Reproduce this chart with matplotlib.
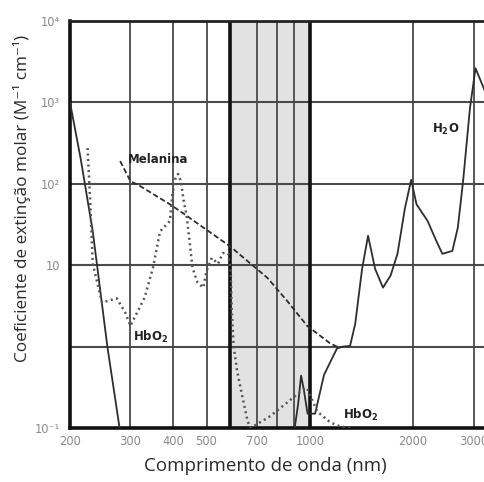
import matplotlib
matplotlib.use("Agg")
import matplotlib.pyplot as plt

# ---- data ----
h2o_nm = [200, 215, 233, 257, 280, 900, 925, 943, 960, 985, 1036, 1100, 1200, 1250, 1310,
          1356, 1420, 1478, 1550, 1634, 1720, 1801, 1893, 1974, 2046, 2204, 2335, 2434,
          2603, 2700, 2797, 2929, 3040, 3240]
h2o_val = [1000, 200, 26, 1.0, 0.09, 0.09, 0.2, 0.44, 0.3, 0.15, 0.15, 0.45, 0.95, 1.0, 1.02,
           1.9, 9, 23, 9, 5.3, 7.5, 13.8, 50, 112, 56, 35, 20, 13.8,
           15, 29, 108, 850, 2630, 1370]

mel_nm = [280, 300, 320, 391, 419, 586, 752, 858, 982, 1148, 1200]
mel_val = [190, 108, 94, 56, 46, 17, 7.0, 3.66, 1.8, 1.09, 1.0]

hbo2_nm = [225, 229, 233, 248, 260, 274, 290, 300, 330, 349, 366, 391, 397, 405, 413, 421,
           429, 437, 446, 455, 471, 489, 500, 518, 540, 558, 578, 588, 592, 600, 614, 635,
           659, 672, 767, 876, 948, 982, 1050, 1148, 1222, 1310]
hbo2_val = [275, 62, 10.4, 3.46, 3.7, 3.9, 2.6, 1.8, 4.0, 9.3, 26, 35, 71, 114, 132, 108,
            61, 42, 20, 9.3, 6.1, 5.3, 8.5, 12.3, 10.4, 14.1, 14, 8.5, 2.8, 1.0, 0.5, 0.25,
            0.12, 0.1, 0.14, 0.22, 0.29, 0.31, 0.16, 0.117, 0.105, 0.1]

xticks = [200, 300, 400, 500, 700, 1000, 2000, 3000]
xticklabels = ["200", "300", "400", "500", "700", "1000", "2000", "3000"]
yticks = [0.1, 10, 100, 1000, 10000]
yticklabels = ["10⁻¹", "10", "10²", "10³", "10⁴"]
vgrid = [300, 400, 500, 700, 800, 900, 2000, 3000]
hgrid = [1, 10, 100, 1000]
window = (585, 1000)

fig = plt.figure(figsize=(4.85, 4.82), dpi=100)
ax = fig.add_axes([70/485, 1-428/482, 415/485, 407/482])
ax.set_xscale("log")
ax.set_yscale("log")
ax.set_xlim(200, 3240)
ax.set_ylim(0.1, 1e4)

ax.axvspan(window[0], window[1], color="#e2e2e2", zorder=0, lw=0)
for v in vgrid:
    ax.axvline(v, color="#4a4a4a", lw=1.3, zorder=1)
for h in hgrid:
    ax.axhline(h, color="#4a4a4a", lw=1.5, zorder=1)
for v in window:
    ax.axvline(v, color="#111111", lw=2.6, zorder=2)

lc = "#2e2e2e"
ax.plot(h2o_nm, h2o_val, color=lc, lw=1.3, zorder=4)
ax.plot(mel_nm, mel_val, color=lc, lw=1.3, ls=(0, (3, 1.5)), zorder=4)
ax.plot(hbo2_nm, hbo2_val, color="#555555", lw=1.8, ls=(0, (0.8, 1.4)), zorder=4)

tf = dict(fontsize=8.5, fontweight="bold", color="#222222", family="DejaVu Sans", zorder=5)
ax.text(295, 200, "Melanina", ha="left", va="center", **tf)
ax.text(2271, 470, "H$_\\mathbf{2}$O", ha="left", va="center", **tf)
ax.text(305, 1.33, "HbO$_\\mathbf{2}$", ha="left", va="center", **tf)
ax.text(1250, 0.143, "HbO$_\\mathbf{2}$", ha="left", va="center", **tf)

ax.set_xticks(xticks)
ax.set_xticklabels(xticklabels)
ax.set_xticks([], minor=True)
ax.set_yticks(yticks)
ax.set_yticklabels(yticklabels)
ax.set_yticks([], minor=True)
ax.tick_params(axis="both", length=0, labelsize=8.3, labelcolor="#8a8a8a")
ax.tick_params(axis="x", pad=5)
ax.tick_params(axis="y", pad=7)

for s in ["left", "bottom"]:
    ax.spines[s].set_linewidth(2.6)
    ax.spines[s].set_color("#111111")
ax.spines["top"].set_linewidth(2.0)
ax.spines["top"].set_color("#222222")
ax.spines["right"].set_visible(False)

fig.text(265/485, 1-466/482, "Comprimento de onda (nm)", ha="center", va="center",
         fontsize=13.5, color="#2a2a2a", family=["Open Sans", "DejaVu Sans"])
fig.text(22/485, 1-198/482, "Coeficiente de extinção molar (M⁻¹ cm⁻¹)", ha="center",
         va="center", rotation=90, fontsize=12.3, color="#2a2a2a",
         family=["Open Sans", "DejaVu Sans"])

fig.savefig("out.png", dpi=100)
